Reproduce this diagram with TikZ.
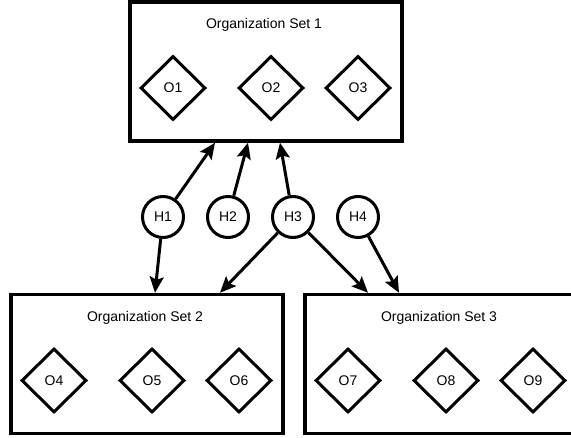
\documentclass[tikz,border=0pt]{standalone}
\usepackage{fontspec}
\setmainfont{Liberation Sans}
\usetikzlibrary{arrows.meta,shapes.geometric,calc}
\tikzset{orgset/.style={draw,line width=3.5pt,minimum width=272pt,minimum height=139pt,inner sep=0pt},
 settitle/.style={font=\fontsize{14}{16}\selectfont,inner sep=0pt},
 org/.style={draw,diamond,line width=3pt,minimum width=65pt,minimum height=64pt,inner sep=0pt,font=\fontsize{14}{16}\selectfont},
 hub/.style={draw,circle,line width=3pt,minimum size=41pt,inner sep=0pt,font=\fontsize{14}{16}\selectfont},
 arrow/.style={-{Stealth[length=16pt,width=14pt,inset=3pt]},line width=3pt}}

\begin{document}
\begin{tikzpicture}[x=1pt,y=-1pt]
\useasboundingbox (0,0) rectangle (571,438);

\node[orgset] (set1) at (266,71.5) {};
\node[settitle] (title1) at ($(set1.north)+(-2,25)$) {Organization Set 1};
\node[org] (o1) at ($(set1.center)+(-93,16.5)$) {O1};
\node[org] (o2) at ($(set1.center)+(5,16.5)$) {O2};
\node[org] (o3) at ($(set1.center)+(92,16.5)$) {O3};

\node[orgset] (set2) at (147,364) {};
\node[settitle] (title2) at ($(set2.north)+(-2,25)$) {Organization Set 2};
\node[org] (o4) at ($(set2.center)+(-93,16.5)$) {O4};
\node[org] (o5) at ($(set2.center)+(5,16.5)$) {O5};
\node[org] (o6) at ($(set2.center)+(92,16.5)$) {O6};

\node[orgset] (set3) at (441,364) {};
\node[settitle] (title3) at ($(set3.north)+(-2,25)$) {Organization Set 3};
\node[org] (o7) at ($(set3.center)+(-93,16.5)$) {O7};
\node[org] (o8) at ($(set3.center)+(5,16.5)$) {O8};
\node[org] (o9) at ($(set3.center)+(92,16.5)$) {O9};

\node[hub] (h1) at (163,217) {H1};
\node[hub] (h2) at (228,217) {H2};
\node[hub] (h3) at (293,217) {H3};
\node[hub] (h4) at (358,217) {H4};

% arrow ends on the set borders
\coordinate (in1a) at ($(set1.south)+(-51,0)$);
\coordinate (in1b) at ($(set1.south)+(-18,0)$);
\coordinate (in1c) at ($(set1.south)+(14,0)$);
\coordinate (in2a) at ($(set2.north)+(8,0)$);
\coordinate (in2b) at ($(set2.north)+(73,0)$);
\coordinate (in3a) at ($(set3.north)+(-73,0)$);
\coordinate (in3b) at ($(set3.north)+(-42,0)$);

\draw[arrow] (h1)--(in1a);
\draw[arrow] (h1)--(in2a);
\draw[arrow] (h2)--(in1b);
\draw[arrow] (h3)--(in1c);
\draw[arrow] (h3)--(in2b);
\draw[arrow] (h3)--(in3a);
\draw[arrow] (h4)--(in3b);
\end{tikzpicture}
\end{document}
